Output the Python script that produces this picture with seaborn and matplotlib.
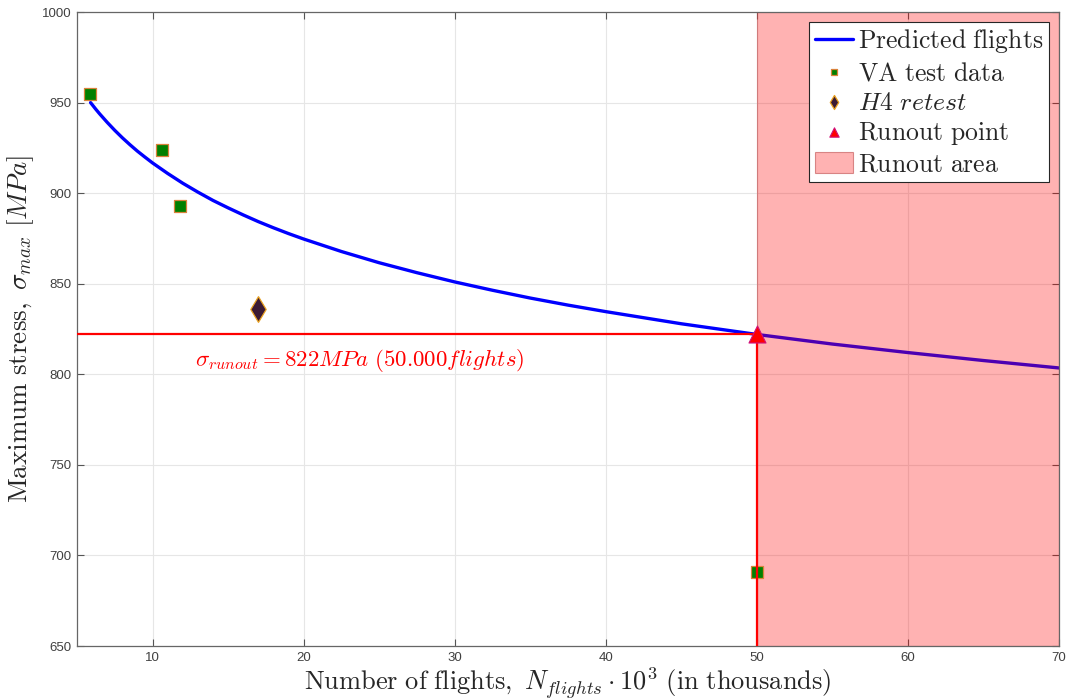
import numpy as np
import pandas as pd
import matplotlib
matplotlib.use("Agg")
import matplotlib.pyplot as plt
import seaborn as sns

# Predicted fatigue curve (thousands of flights vs. max stress, MPa)
curve_flights = [5.9, 6.25, 6.5, 7, 7.5, 8, 8.5, 9, 9.5, 10, 11, 12, 13, 14, 15, 16, 17, 18,
                 19, 20, 22.5, 25, 27.5, 30, 32.5, 35, 37.5, 40, 45, 50, 55, 60, 65, 70]
curve_stress = [950.0, 946.3, 943.8, 939.1, 934.7, 930.6, 926.8, 923.2, 919.9, 916.7,
                910.9, 905.5, 900.6, 896.0, 891.9, 888.0, 884.3, 880.9, 877.7, 874.7,
                867.8, 861.6, 856.1, 851.0, 846.4, 842.1, 838.2, 834.6, 827.9, 822.0,
                816.7, 812.0, 807.6, 803.5]

# VA test specimens
va_flights = [5.86, 10.6, 11.8, 50.0]
va_stress = [955, 924, 893, 691]

# H4 retest
h4_flights = [17.0]
h4_stress = [836]

# Runout definition
runout_flights = 50.0
runout_stress = 822

x_lim = (5, 70)
y_lim = (650, 1000)
x_ticks = [10, 20, 30, 40, 50, 60, 70]
y_ticks = [650, 700, 750, 800, 850, 900, 950, 1000]

lbl_pred = r"$\mathrm{Predicted\ flights}$"
lbl_va = r"$\mathrm{VA\ test\ data}$"
lbl_h4 = r"$H4\ retest$"
lbl_ro = r"$\mathrm{Runout\ point}$"
lbl_area = r"$\mathrm{Runout\ area}$"

sns.set_theme(style="whitegrid")
plt.rcParams["mathtext.fontset"] = "cm"
plt.rcParams["font.family"] = ["Liberation Sans", "DejaVu Sans"]

fig = plt.figure(figsize=(10.72, 6.99), dpi=100)
ax = fig.add_axes([0.0718, 0.0758, 0.9161, 0.907])

curve_df = pd.DataFrame({"flights": curve_flights, "stress": curve_stress})
va_df = pd.DataFrame({"flights": va_flights, "stress": va_stress})
h4_df = pd.DataFrame({"flights": h4_flights, "stress": h4_stress})
ro_df = pd.DataFrame({"flights": [runout_flights], "stress": [runout_stress]})

sns.lineplot(data=curve_df, x="flights", y="stress", ax=ax, color="#0000ff",
             linewidth=2.4, label=lbl_pred, zorder=2)

# Runout region shading
ax.axvspan(runout_flights, x_lim[1], facecolor=(1.0, 0.0, 0.0, 0.3),
           edgecolor=(0.75, 0.3, 0.3, 0.6), lw=0.8, label=lbl_area, zorder=2.5)

sns.scatterplot(data=va_df, x="flights", y="stress", ax=ax, marker="s", s=75,
                color="#008000", edgecolor="#d9823b", linewidth=0.9,
                label=lbl_va, zorder=3)
sns.scatterplot(data=h4_df, x="flights", y="stress", ax=ax, marker="d", s=170,
                color="#3b1a33", edgecolor="#e8a020", linewidth=0.9,
                label=lbl_h4, zorder=3)

# Runout guide lines
ax.plot([x_lim[0], runout_flights], [runout_stress, runout_stress], color="#ff0000",
        linewidth=1.6, zorder=4)
ax.plot([runout_flights, runout_flights], [y_lim[0], runout_stress], color="#ff0000",
        linewidth=1.6, zorder=4)

sns.scatterplot(data=ro_df, x="flights", y="stress", ax=ax, marker="^", s=150,
                color="#ff0000", edgecolor="#d0107a", linewidth=0.8,
                label=lbl_ro, zorder=5)

ax.text(12.8, 807.5, r"$\sigma_{runout} = 822MPa\ (50.000flights)$", color="#ff0000",
        fontsize=16.5, ha="left", va="center", zorder=6)

ax.set_xlim(*x_lim)
ax.set_ylim(*y_lim)
ax.set_xticks(x_ticks)
ax.set_yticks(y_ticks)
ax.tick_params(axis="both", labelsize=9.5, labelcolor="#404040", direction="in",
               length=5, width=0.8, color="#555555", pad=4,
               top=True, right=True, bottom=True, left=True)
ax.grid(True, color="#e6e6e6", linewidth=0.8, zorder=0)
ax.set_axisbelow(True)
for s in ax.spines.values():
    s.set_color("#666666")
    s.set_linewidth(0.9)

ax.set_xlabel(r"$\mathrm{Number\ of\ flights,}\ N_{flights}\cdot 10^3\ \mathrm{(in\ thousands)}$",
              fontsize=19, color="#262626", labelpad=1)
ax.set_ylabel(r"$\mathrm{Maximum\ stress,}\ \sigma_{max}\ [MPa]$",
              fontsize=19.5, color="#262626", labelpad=4)

order = [lbl_pred, lbl_va, lbl_h4, lbl_ro, lbl_area]
handles, labels = ax.get_legend_handles_labels()
lookup = dict(zip(labels, handles))
leg = ax.legend([lookup[k] for k in order], order, loc="upper right",
                fontsize=18.5, frameon=True, fancybox=False,
                edgecolor="#262626", framealpha=1.0, borderpad=0.22, labelspacing=0.2,
                handlelength=1.5, handleheight=0.9, handletextpad=0.2,
                borderaxespad=0.38, markerscale=0.55)
leg.get_frame().set_linewidth(0.8)
leg.set_zorder(10)

fig.savefig("out.png", dpi=100)
